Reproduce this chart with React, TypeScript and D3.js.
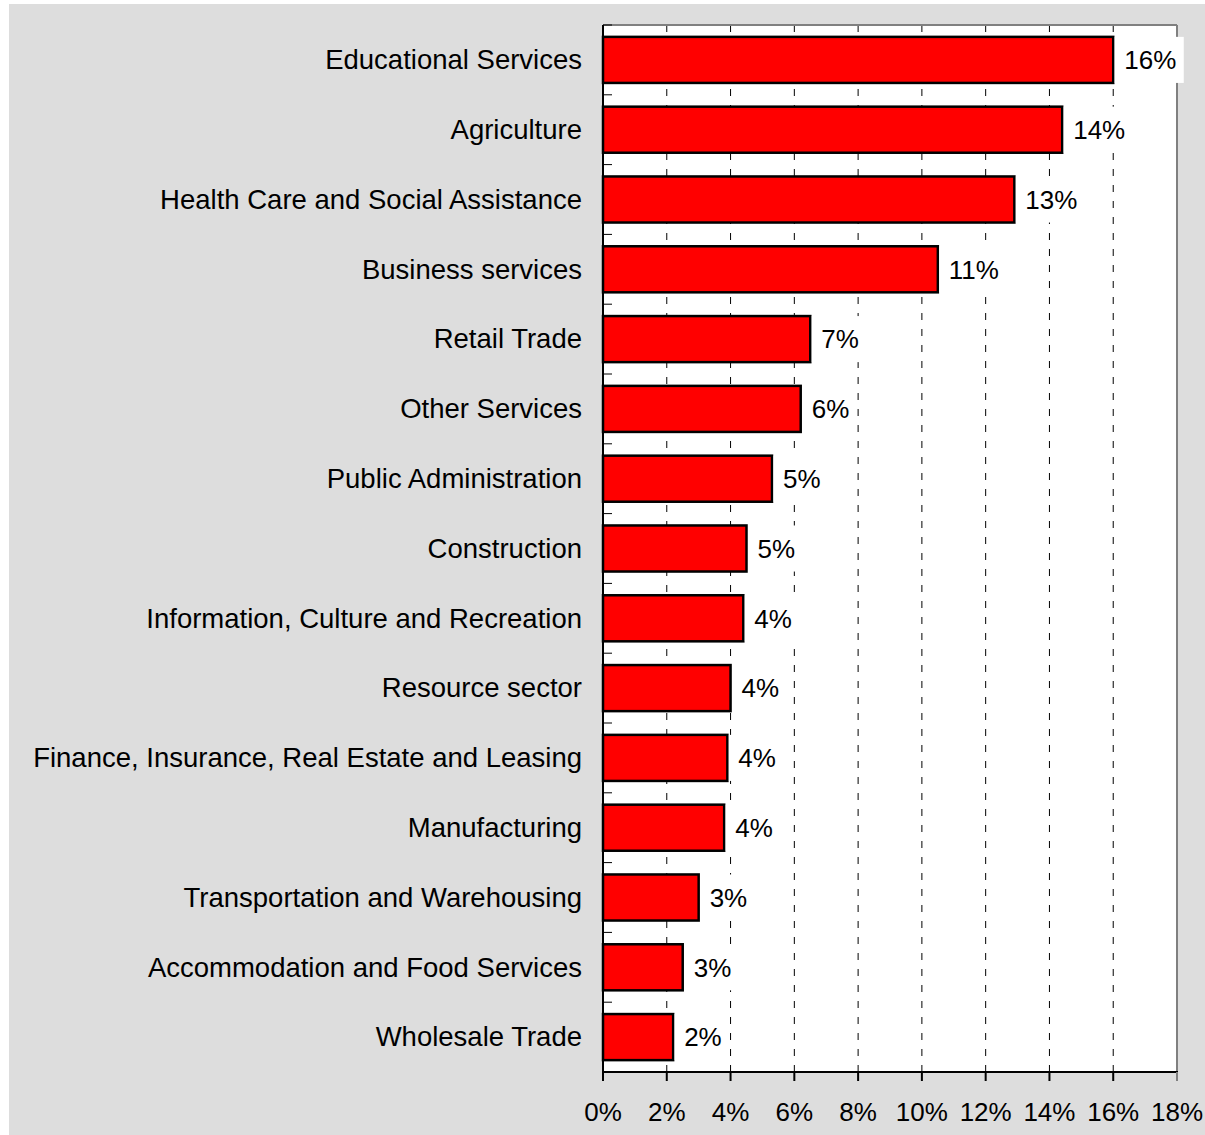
import React from 'react';
import * as d3 from 'd3';

const categories = [
  'Educational Services',
  'Agriculture',
  'Health Care and Social Assistance',
  'Business services',
  'Retail Trade',
  'Other Services',
  'Public Administration',
  'Construction',
  'Information, Culture and Recreation',
  'Resource sector',
  'Finance, Insurance, Real Estate and Leasing',
  'Manufacturing',
  'Transportation and Warehousing',
  'Accommodation and Food Services',
  'Wholesale Trade',
];

const shares = [16.0, 14.4, 12.9, 10.5, 6.5, 6.2, 5.3, 4.5, 4.4, 4.0, 3.9, 3.8, 3.0, 2.5, 2.2];

const xTicks = [0, 2, 4, 6, 8, 10, 12, 14, 16, 18];

const W = 1205;
const H = 1135;
const plot = { left: 603, top: 25, right: 1177, bottom: 1072 };
const font = '"Liberation Sans", Arial, sans-serif';

const App: React.FC = () => {
  const x = d3.scaleLinear().domain([0, 18]).range([plot.left, plot.right]);
  const y = d3
    .scaleBand<string>()
    .domain(categories)
    .range([plot.top, plot.bottom])
    .paddingInner(0.34)
    .paddingOuter(0.17);

  const step = y.step();
  const boundaries = d3.range(categories.length + 1).map(i => plot.top + i * step);

  const labelWidth = (s: string) =>
    s.split('').reduce((w, c) => w + (c === '%' ? 0.889 : 0.556), 0) * 26;

  return (
    <svg
      width={W}
      height={H}
      style={{ position: 'absolute', left: 0, top: 0, display: 'block' }}
      fontFamily={font}
    >
      <rect x={9} y={4} width={W - 9} height={H - 4} fill="#dddddd" />
      <rect
        x={plot.left}
        y={plot.top}
        width={plot.right - plot.left}
        height={plot.bottom - plot.top}
        fill="#ffffff"
      />

      {/* dashed gridlines */}
      {xTicks.slice(1, -1).map(t => (
        <line
          key={'g' + t}
          x1={x(t)}
          x2={x(t)}
          y1={plot.top}
          y2={plot.bottom}
          stroke="#000"
          strokeWidth={1}
          strokeDasharray="7,9"
        />
      ))}

      {/* plot border top/right */}
      <line x1={plot.left} x2={plot.right} y1={plot.top} y2={plot.top} stroke="#808080" strokeWidth={2} />
      <line x1={plot.right} x2={plot.right} y1={plot.top} y2={plot.bottom} stroke="#808080" strokeWidth={2} />

      {/* bars */}
      {categories.map((c, i) => (
        <rect
          key={c}
          x={x(0)}
          y={y(c)}
          width={x(shares[i]) - x(0)}
          height={y.bandwidth()}
          fill="#ff0000"
          stroke="#000"
          strokeWidth={2.5}
        />
      ))}

      {/* value labels */}
      {categories.map((c, i) => {
        const txt = `${Math.round(shares[i])}%`;
        const bx = x(shares[i]) + 1.5;
        const cy = (y(c) as number) + y.bandwidth() / 2;
        return (
          <g key={'l' + c}>
            <rect
              x={bx}
              y={y(c) as number}
              width={labelWidth(txt) + 17}
              height={y.bandwidth()}
              fill="#ffffff"
            />
            <text x={x(shares[i]) + 11} y={cy} dy="0.36em" fontSize={26} fill="#000">
              {txt}
            </text>
          </g>
        );
      })}

      {/* category labels */}
      {categories.map(c => (
        <text
          key={'c' + c}
          x={plot.left - 21}
          y={(y(c) as number) + y.bandwidth() / 2}
          dy="0.34em"
          textAnchor="end"
          fontSize={27.5}
          fill="#000"
        >
          {c}
        </text>
      ))}

      {/* y axis */}
      <line x1={plot.left} x2={plot.left} y1={plot.top} y2={plot.bottom} stroke="#000" strokeWidth={2} />
      {boundaries.map((b, i) => (
        <line key={'yt' + i} x1={plot.left} x2={plot.left + 9} y1={b} y2={b} stroke="#000" strokeWidth={1} />
      ))}

      {/* x axis */}
      <line x1={plot.left} x2={plot.right + 1} y1={plot.bottom} y2={plot.bottom} stroke="#000" strokeWidth={2} />
      {xTicks.map(t => (
        <g key={'xt' + t}>
          <line x1={x(t)} x2={x(t)} y1={plot.bottom} y2={plot.bottom + 9} stroke={t === 18 ? '#808080' : '#000'} strokeWidth={2} />
          <text x={x(t)} y={1121} textAnchor="middle" fontSize={26} fill="#000">
            {`${t}%`}
          </text>
        </g>
      ))}
    </svg>
  );
};

export default App;
